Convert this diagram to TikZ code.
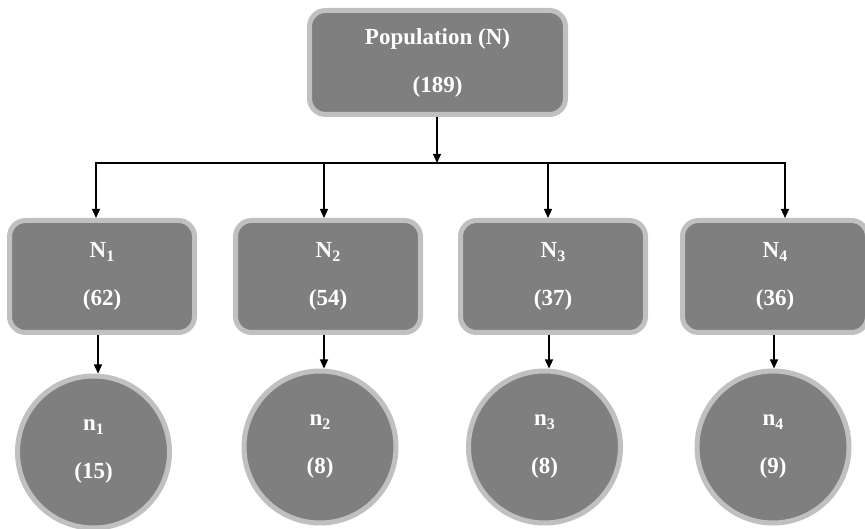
\documentclass[tikz,border=0pt]{standalone}
\usepackage{fontspec}
\setmainfont{Liberation Serif}
\usetikzlibrary{arrows.meta}
\definecolor{boxfill}{HTML}{7F7F7F}
\definecolor{boxrim}{HTML}{C0C0C0}
\newcommand{\mysub}[1]{\raisebox{-0.35ex}{\fontsize{16}{16}\selectfont #1}}
\begin{document}
\begin{tikzpicture}[x=1pt,y=-1pt,
  lbl/.style={text=white, font=\fontsize{23}{48}\selectfont\bfseries, align=center},
  blk/.style={lbl, rectangle, rounded corners=16pt, fill=boxfill, draw=boxrim, line width=5pt, minimum width=185pt, minimum height=112pt, inner sep=0pt},
  topblk/.style={blk, minimum width=256pt, minimum height=104pt},
  circ/.style={lbl, circle, fill=boxfill, draw=boxrim, line width=5pt, minimum size=152pt, inner sep=0pt},
  conn/.style={line width=1.2pt, black},
  arr/.style={conn, -{Triangle[length=9pt,width=8pt]}}]
\fill[white] (0,0) rectangle (865,529);
\useasboundingbox (0,0) rectangle (865,529);
\begin{scope}
\clip (0,0) rectangle (865,529);
\node[topblk] (t) at (437.5,62.5) {Population (N)\\(189)};
\node[blk] (b1) at (102,276.5) {N\mysub{1}\\(62)};
\node[blk] (b2) at (328,276.5) {N\mysub{2}\\(54)};
\node[blk] (b3) at (553,276.5) {N\mysub{3}\\(37)};
\node[blk] (b4) at (775,276.5) {N\mysub{4}\\(36)};
\node[circ] (n1) at (93.5,452) {n\mysub{1}\\(15)};
\node[circ] (n2) at (320,447) {n\mysub{2}\\(8)};
\node[circ] (n3) at (544.5,447) {n\mysub{3}\\(8)};
\node[circ] (n4) at (773,447) {n\mysub{4}\\(9)};
\end{scope}
\coordinate (hl) at (95,163);
\coordinate (hr) at (786,163);
\coordinate (hm) at (437,163);
\coordinate (c1) at (96,163);
\coordinate (c2) at (324,163);
\coordinate (c3) at (548,163);
\coordinate (c4) at (785,163);
\coordinate (d1) at (98,0);
\coordinate (d2) at (324,0);
\coordinate (d3) at (549,0);
\coordinate (d4) at (774,0);
\draw[conn] (hl) -- (hr);
\draw[arr] (t.south -| hm) -- (hm);
\foreach \i in {1,...,4}{
  \draw[arr] (c\i) -- (c\i |- b\i.north);
  \draw[arr] (d\i |- b\i.south) -- (d\i |- n\i.north);
}
\end{tikzpicture}
\end{document}
